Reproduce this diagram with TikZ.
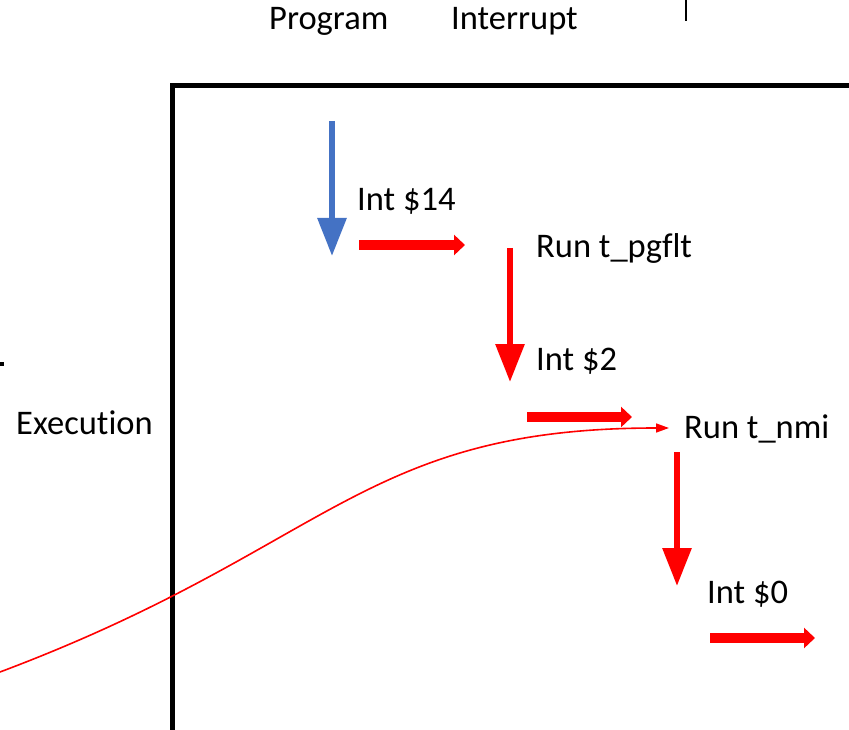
\documentclass[tikz,border=0pt]{standalone}
\usepackage{fontspec}
\setmainfont{Carlito}[Ligatures=CommonOff]
\usetikzlibrary{arrows.meta}
\definecolor{progblue}{HTML}{4472C4}
\definecolor{intred}{HTML}{FF0000}
\tikzset{
  lbl/.style={anchor=base west, inner sep=0pt, font=\fontsize{34.5}{41}\selectfont},
  axisline/.style={line width=5pt, black},
  downarrow/.style={line width=6pt, -{Triangle[width=28pt,length=38pt]}},
  sidearrow/.style={line width=10pt, intred, -{Triangle[width=20pt,length=11pt]}},
  flowcurve/.style={line width=1.6pt, intred, -{Triangle[width=9pt,length=13pt]}}
}
\begin{document}
\begin{tikzpicture}[x=1pt,y=-1pt]
  \useasboundingbox (0,0) rectangle (849,730);

  % column headings and the axis label
  \node[lbl] (prog) at (269,30) {Program};
  \node[lbl] (intr) at (451,30) {Interrupt};
  \node[lbl] (exec) at (16,434) {Execution};

  % axes and small marks
  \coordinate (axtop) at (172,86);
  \coordinate (axbot) at (172,730);
  \coordinate (axright) at (847,86);
  \draw[axisline, line cap=rect] (axbot) -- (axtop) -- (axright);
  \coordinate (ticka) at (686,0);
  \coordinate (tickb) at (686,21);
  \draw[line width=2pt] (ticka) -- (tickb);
  \coordinate (dota) at (0,364);
  \coordinate (dotb) at (4,364);
  \draw[line width=4pt] (dota) -- (dotb);

  % step labels
  \node[lbl] (i14)  at (357,211) {Int \$14};
  \node[lbl] (rpg)  at (536,258) {Run t\_pgflt};
  \node[lbl] (i2)   at (536,370) {Int \$2};
  \node[lbl] (rnmi) at (684,438) {Run t\_nmi};
  \node[lbl] (i0)   at (707,603) {Int \$0};

  % program flow down to the first interrupt
  \coordinate (b1) at (332,121);
  \coordinate (b2) at (332,256);
  \draw[downarrow, progblue] (b1) -- (b2);

  % interrupt chain
  \coordinate (h1a) at (359,245);
  \coordinate (h1b) at (465,245);
  \draw[sidearrow] (h1a) -- (h1b);

  \coordinate (v1a) at (510,248);
  \coordinate (v1b) at (510,382);
  \draw[downarrow, intred] (v1a) -- (v1b);

  \coordinate (h2a) at (527,417);
  \coordinate (h2b) at (632,417);
  \draw[sidearrow] (h2a) -- (h2b);

  \coordinate (v2a) at (677,452);
  \coordinate (v2b) at (677,586);
  \draw[downarrow, intred] (v2a) -- (v2b);

  \coordinate (h3a) at (710,638);
  \coordinate (h3b) at (815,638);
  \draw[sidearrow] (h3a) -- (h3b);

  % execution trace curve
  \coordinate (cstart) at (0,672);
  \coordinate (cend) at (669,428);
  \draw[flowcurve] (cstart) .. controls (330,548) and (360,428) .. (cend);
\end{tikzpicture}
\end{document}
